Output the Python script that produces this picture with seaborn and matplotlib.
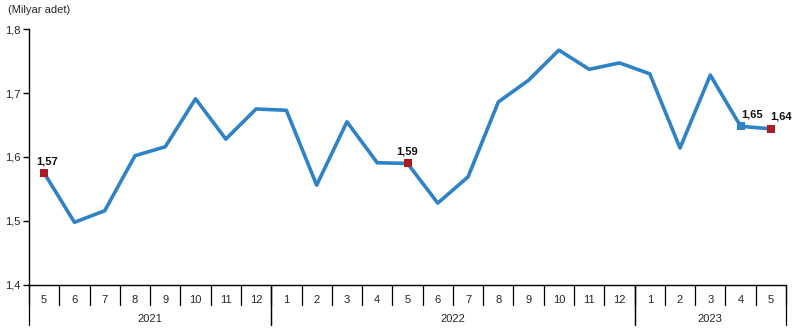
import numpy as np
import pandas as pd
import matplotlib
matplotlib.use("Agg")
import matplotlib.pyplot as plt
import matplotlib.transforms as mtransforms
import seaborn as sns

months = ["5", "6", "7", "8", "9", "10", "11", "12",
          "1", "2", "3", "4", "5", "6", "7", "8", "9", "10", "11", "12",
          "1", "2", "3", "4", "5"]
years = ["2021", "2022", "2023"]
year_counts = [8, 12, 5]
values = [1.575, 1.498, 1.516, 1.602, 1.616, 1.691, 1.628, 1.675,
          1.673, 1.556, 1.655, 1.591, 1.590, 1.528, 1.569, 1.686, 1.720, 1.767, 1.737, 1.747,
          1.730, 1.614, 1.728, 1.648, 1.644]
label_idx = [0, 12, 23, 24]
label_text = ["1,57", "1,59", "1,65", "1,64"]

sns.set_theme(style="white")
plt.rcParams["font.family"] = ["Liberation Sans", "DejaVu Sans"]

df = pd.DataFrame({"x": np.arange(len(values)), "v": values})

fig = plt.figure(figsize=(7.95, 3.31), dpi=100)
ax = fig.add_axes([29/795, (331-285)/331, 757/795, 256/331])

line_color = "#2E82C5"
red = "#A81C22"
sns.lineplot(data=df, x="x", y="v", ax=ax, color=line_color, linewidth=2.6)

marker_colors = [red, red, line_color, red]
for i, c in zip(label_idx, marker_colors):
    ax.scatter([df.x[i]], [df.v[i]], marker="s", s=30, color=c, zorder=5, linewidths=0)

offsets = [(2, 5), (0, 5), (8, 5), (7, 5)]
for i, t, off in zip(label_idx, label_text, offsets):
    ax.annotate(t, (df.x[i], df.v[i]), xytext=off, textcoords="offset points",
                ha="center", va="bottom", fontsize=8, fontweight="bold", color="#111111")

ax.set_xlim(-0.5, len(values) - 0.5)
ax.set_ylim(1.4, 1.8)
ax.set_yticks([1.4, 1.5, 1.6, 1.7, 1.8])
ax.set_yticklabels([f"{t:.1f}".replace(".", ",") for t in [1.4, 1.5, 1.6, 1.7, 1.8]])
ax.tick_params(axis="y", direction="out", length=4, width=1, color="black",
               labelsize=8, pad=2, left=True)
ax.set_xticks(np.arange(len(values)))
ax.set_xticklabels(months)
ax.tick_params(axis="x", length=0, labelsize=8, pad=7)
ax.set_xlabel("")
ax.set_ylabel("")

for s in ["top", "right"]:
    ax.spines[s].set_visible(False)
ax.spines["left"].set_color("black")
ax.spines["bottom"].set_color("black")
ax.spines["left"].set_linewidth(1)
ax.spines["bottom"].set_linewidth(1)

trans = mtransforms.blended_transform_factory(ax.transData, ax.transAxes)
h = 256
short = -20 / h
long_ = -40 / h
for k in range(len(values) + 1):
    ax.plot([k - 0.5, k - 0.5], [0, short], color="black", lw=0.9,
            transform=trans, clip_on=False)
start = 0
for y, cnt in zip(years, year_counts):
    end = start + cnt
    for b in [start, end]:
        ax.plot([b - 0.5, b - 0.5], [0, long_], color="black", lw=0.9,
                transform=trans, clip_on=False)
    ax.text((start + end - 1) / 2, -34 / h, y, transform=trans, ha="center",
            va="center", fontsize=8)
    start = end

fig.text(8/795, 1 - 10/331, "(Milyar adet)", fontsize=8, ha="left", va="center")

fig.savefig("out.png", dpi=100)
